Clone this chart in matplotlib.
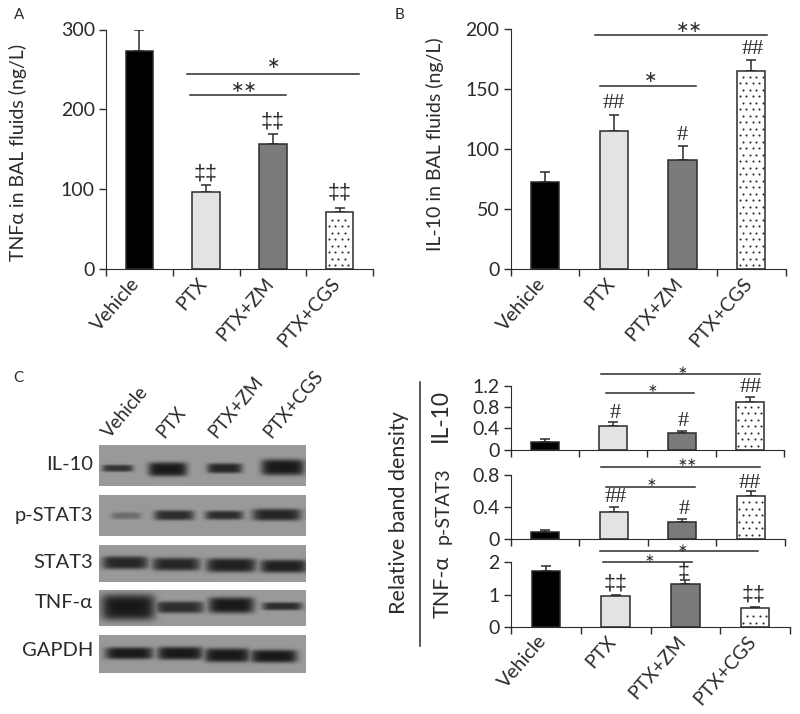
import numpy as np
import matplotlib
matplotlib.use("Agg")
import matplotlib.pyplot as plt
from matplotlib.transforms import ScaledTranslation

plt.rcParams['font.family'] = ['Lato', 'Liberation Serif', 'DejaVu Sans']

W, H = 800, 714
INK = "#2b2b2b"

groups = ["Vehicle", "PTX", "PTX+ZM", "PTX+CGS"]
bar_colors = ["#000000", "#e3e3e3", "#7a7a7a", "#ffffff"]

tnf_bal = [273, 97, 156, 71]
tnf_bal_top = [300, 105, 169, 77]
il10_bal = [72, 115, 91, 165]
il10_bal_top = [81, 128, 102, 174]
il10_band = [0.15, 0.45, 0.31, 0.89]
il10_band_top = [0.195, 0.52, 0.36, 1.0]
pstat_band = [0.09, 0.34, 0.21, 0.535]
pstat_band_top = [0.105, 0.40, 0.25, 0.60]
tnf_band = [1.74, 0.94, 1.33, 0.57]
tnf_band_top = [1.9, 0.98, 1.44, 0.61]

blot_names = ["IL-10", "p-STAT3", "STAT3", "TNF-α", "GAPDH"]
# band strength per lane
blot_dark = [
    [0.8, 1.0, 0.9, 1.0],
    [0.35, 0.85, 0.85, 0.9],
    [0.9, 0.9, 0.95, 0.95],
    [1.0, 0.85, 1.0, 0.85],
    [1.0, 1.0, 1.0, 1.0],
]
# left, right, centre y, half thickness of each band
blot_bands = [
    [(102, 133, 468, 3.5), (148, 187, 469, 7), (207, 242, 468, 5), (261, 304, 467, 8)],
    [(111, 141, 515.5, 3.5), (154, 194, 515, 5), (205, 243, 515, 4.5), (252, 301, 514.5, 6)],
    [(102, 148, 562.5, 6.5), (152, 200, 564, 6.5), (206, 256, 565, 7), (260, 307, 566, 6.5)],
    [(101, 155, 607, 13), (155, 204, 607, 6), (208, 254, 605, 8), (262, 302, 606, 4)],
    [(105, 153, 653, 6), (157, 203, 653, 6.5), (204, 250, 655, 7), (250, 297, 656, 6.5)],
]
blot_rows = [(445, 486), (495, 536), (545, 582), (590, 626), (635, 673)]


def add_ax(left, right, top, bottom):
    return fig.add_axes([left / W, 1 - bottom / H, (right - left) / W, (bottom - top) / H])


def add_dots(ax, box, xc, height, ymax):
    # sparse staggered dots inside the last bar, about 6.5 px apart
    px_x = (box[1] - box[0]) / 4
    px_y = (box[3] - box[2]) / ymax
    dx, dy = 6.5 / px_x, 6.5 / px_y
    half = 0.41 / 2 - 0.4 * dx
    rows = np.arange(0.6 * dy, height - 0.3 * dy, dy)
    for n, y in enumerate(rows):
        xs = np.arange(xc - half + (n % 2) * dx / 2, xc + half, dx)
        ax.plot(xs, np.full_like(xs, y), ls="none", marker="o", ms=1.5, mfc=INK, mec="none", zorder=3)


def bar_panel(box, values, tops, ymax, yticks, yticklabels, show_names=False):
    ax = add_ax(*box)
    x = np.arange(4)
    for i in x:
        ax.bar(i, values[i], width=0.41, color=bar_colors[i], edgecolor=INK, linewidth=1.1, zorder=2)
        ax.errorbar(i, values[i], yerr=[[0], [tops[i] - values[i]]], color=INK, capsize=3.4,
                    elinewidth=1.1, capthick=1.1, zorder=1)
    add_dots(ax, box, 3, values[3], ymax)
    ax.set_xlim(-0.5, 3.5)
    ax.set_ylim(0, ymax)
    ax.set_yticks(yticks, yticklabels)
    ax.set_xticks(np.arange(-0.5, 4))
    ax.set_xticklabels([])
    ax.spines[["top", "right"]].set_visible(False)
    ax.spines[["left", "bottom"]].set_color(INK)
    ax.patch.set_alpha(0)
    ax.tick_params(axis="both", which="major", color=INK, labelcolor=INK, length=5, width=1,
                   labelsize=14, pad=3)
    if show_names:
        ax.set_xticks(x, groups, minor=True)
        ax.tick_params(axis="x", which="minor", length=0, labelsize=14, labelcolor=INK, pad=7)
        shift = ScaledTranslation(-9 / 100, 4 / 100, fig.dpi_scale_trans)
        for lab in ax.get_xticklabels(minor=True):
            lab.set_rotation(49)
            lab.set_ha("right")
            lab.set_va("top")
            lab.set_rotation_mode("anchor")
            lab.set_transform(lab.get_transform() + shift)
    return ax


fig = plt.figure(figsize=(W / 100, H / 100), dpi=100, facecolor="white")

bar_panel((106, 373, 29.5, 269), tnf_bal, tnf_bal_top, 300, [0, 100, 200, 300], ["0", "100", "200", "300"], True)
bar_panel((510.7, 785.7, 28.7, 269), il10_bal, il10_bal_top, 200, [0, 50, 100, 150, 200],
          ["0", "50", "100", "150", "200"], True)
bar_panel((510.7, 784, 386, 449.7), il10_band, il10_band_top, 1.2, [0, 0.4, 0.8, 1.2], ["0", "0.4", "0.8", "1.2"])
bar_panel((510.7, 785, 475, 538.7), pstat_band, pstat_band_top, 0.8, [0, 0.4, 0.8], ["0", "0.4", "0.8"])
bar_panel((511, 790, 562.3, 626.7), tnf_band, tnf_band_top, 2, [0, 1, 2], ["0", "1", "2"], True)

# overlay in image pixels for the blots and the annotations
ov = fig.add_axes([0, 0, 1, 1], zorder=5)
ov.axis("off")
ov.patch.set_alpha(0)

for (top, bottom), bands, darks in zip(blot_rows, blot_bands, blot_dark):
    xx, yy = np.meshgrid(np.arange(99, 306, 0.5), np.arange(top, bottom, 0.5))
    shade = np.zeros_like(xx)
    for (x0, x1, yc, hh), d in zip(bands, darks):
        xc, hw = (x0 + x1) / 2, (x1 - x0) / 2
        shade = np.maximum(shade, d * np.exp(-np.abs((xx - xc) / hw) ** 6 - np.abs((yy - yc) / hh) ** 4))
    img = 0.6 - 0.5 * shade
    ov.imshow(img, cmap="gray", vmin=0, vmax=1, extent=(99, 306, bottom, top), aspect="auto",
              interpolation="bilinear")
ov.set_xlim(0, W)
ov.set_ylim(H, 0)


def label(x, y, s, size=13, rot=0, ha="center", va="center", **kw):
    ov.text(x, y, s, fontsize=size, rotation=rot, ha=ha, va=va, color=INK, rotation_mode="anchor", **kw)


def sig(x0, x1, y, xs, ys, s, size=11.5):
    ov.plot([x0, x1], [y, y], color=INK, lw=1.1)
    ov.text(xs, ys, s, fontsize=size, ha="center", va="center", color=INK, family="DejaVu Sans")


def mark(x, y, s):
    if "‡" in s:
        ov.text(x, y, s, fontsize=15.5, ha="center", va="center", color=INK, family="Liberation Sans")
    else:
        ov.text(x, y, s, fontsize=16, ha="center", va="center", color=INK, family="Liberation Serif")


label(19, 15, "A", 11)
label(399, 15, "B", 11)
label(18, 378, "C", 11)

label(18, 152, "TNFα in BAL fluids (ng/L)", 14, 90)
label(435, 144, "IL-10 in BAL fluids (ng/L)", 14, 90)
label(399, 513, "Relative band density", 15.5, 90)
label(440, 415, "IL-10", 16.5, 90)
label(443, 506, "p-STAT3", 14, 90)
label(443, 587, "TNF-α", 15.5, 90)
ov.plot([420, 420], [382, 646], color=INK, lw=1.1)

sig(187, 359, 74, 274, 63, "∗")
sig(190, 286, 95, 244, 87, "∗∗")
mark(206, 174, "‡‡")
mark(273, 122, "‡‡")
mark(340, 193, "‡‡")

sig(595, 767, 34.7, 689, 28, "∗∗")
sig(600, 696, 86, 651, 77, "∗")
mark(614, 104, "##")
mark(682, 135, "#")
mark(753, 50, "##")

sig(601, 760, 374, 682, 371, "∗", 8.5)
sig(606, 694, 393, 652, 389, "∗", 8.5)
mark(615, 413, "#")
mark(683, 422, "#")
mark(751, 387, "##")

sig(601, 760, 467, 687, 463, "∗∗", 8.5)
sig(606, 695, 487, 651, 482, "∗", 8.5)
mark(616, 497, "##")
mark(684, 509, "#")
mark(750, 484, "##")

sig(600, 758, 551, 682, 549, "∗", 8.5)
sig(603, 692, 562, 649, 558, "∗", 8.5)
mark(616, 584, "‡‡")
mark(684, 572, "‡")
mark(754, 595, "‡‡")

for name, yc in zip(blot_names, [464, 515, 562, 603, 651]):
    label(93, yc, name, 14.5, ha="right")

for name, xs in zip(groups, [112, 167, 219, 274]):
    label(xs, 441, name, 13.5, 50, ha="left", va="bottom")

fig.savefig("out.png", dpi=100)
